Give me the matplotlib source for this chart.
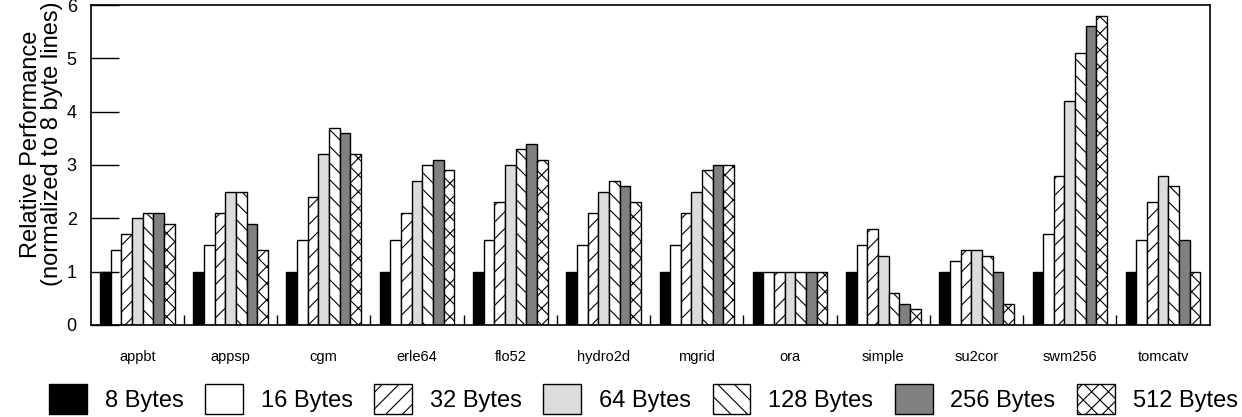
import matplotlib.pyplot as plt
import numpy as np

plt.rcParams['font.family'] = ['Liberation Sans', 'DejaVu Sans']
plt.rcParams['hatch.linewidth'] = 0.8

benchmarks = ['appbt', 'appsp', 'cgm', 'erle64', 'flo52', 'hydro2d', 'mgrid',
              'ora', 'simple', 'su2cor', 'swm256', 'tomcatv']
line_sizes = ['8 Bytes', '16 Bytes', '32 Bytes', '64 Bytes', '128 Bytes', '256 Bytes', '512 Bytes']

# relative performance per line size (rows) for each benchmark (columns)
perf_8 = [1, 1, 1, 1, 1, 1, 1, 1, 1, 1, 1, 1]
perf_16 = [1.4, 1.5, 1.6, 1.6, 1.6, 1.5, 1.5, 1.0, 1.5, 1.2, 1.7, 1.6]
perf_32 = [1.7, 2.1, 2.4, 2.1, 2.3, 2.1, 2.1, 1.0, 1.8, 1.4, 2.8, 2.3]
perf_64 = [2.0, 2.5, 3.2, 2.7, 3.0, 2.5, 2.5, 1.0, 1.3, 1.4, 4.2, 2.8]
perf_128 = [2.1, 2.5, 3.7, 3.0, 3.3, 2.7, 2.9, 1.0, 0.6, 1.3, 5.1, 2.6]
perf_256 = [2.1, 1.9, 3.6, 3.1, 3.4, 2.6, 3.0, 1.0, 0.4, 1.0, 5.6, 1.6]
perf_512 = [1.9, 1.4, 3.2, 2.9, 3.1, 2.3, 3.0, 1.0, 0.3, 0.4, 5.8, 1.0]
series = [perf_8, perf_16, perf_32, perf_64, perf_128, perf_256, perf_512]

colors = ['black', 'white', 'white', '#dcdcdc', 'white', '#808080', 'white']
hatches = [None, None, '//', None, '\\\\', None, 'xx']

fig = plt.figure(figsize=(12.42, 4.17), dpi=100)
ax = fig.add_axes([0.073, 0.221, 0.901, 0.767])

x = np.arange(len(benchmarks))
w = 0.8 / 7
for i, vals in enumerate(series):
    ax.bar(x - 0.4 + w * (i + 0.5), vals, w, color=colors[i], edgecolor='black',
           linewidth=1.0, hatch=hatches[i], label=line_sizes[i])

ax.set_xlim(-0.5, len(benchmarks) - 0.5)
ax.set_ylim(0, 6)
ax.set_xticks(x)
ax.set_xticklabels(benchmarks, fontsize=10.5)
ax.set_xticks(x[:-1] + 0.5, minor=True)
ax.tick_params(axis='x', which='major', length=0, pad=18)
ax.tick_params(axis='x', which='minor', direction='in', length=7, width=1)
ax.set_yticks(range(7))
ax.tick_params(axis='y', direction='in', length=20, width=1, labelsize=13, pad=10)
for s in ax.spines.values():
    s.set_linewidth(1.2)
ax.set_ylabel('Relative Performance\n(normalized to 8 byte lines)', fontsize=17,
              linespacing=0.95)
ax.yaxis.set_label_coords(-0.025, 0.565)

fig.legend(loc='center', bbox_to_anchor=(0.518, 0.043), ncol=7, frameon=False,
           fontsize=17, handlelength=1.6, handleheight=1.6, columnspacing=0.92,
           handletextpad=0.75, borderpad=0)

fig.savefig('out.png', dpi=100)
